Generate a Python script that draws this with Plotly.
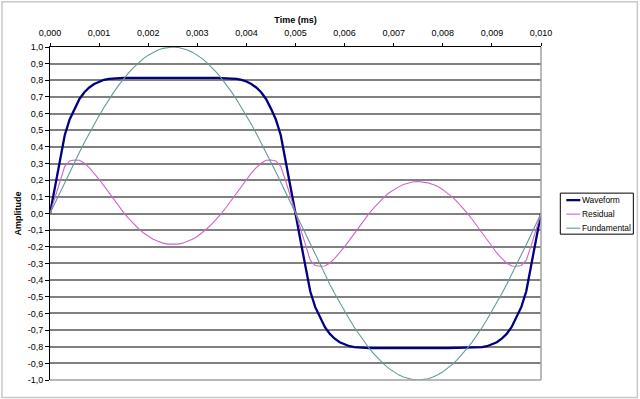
import plotly.graph_objects as go

# ---- data ----
time_ms = [round(i * 0.0001, 4) for i in range(101)]

waveform = [
    0.000, 0.160, 0.320, 0.470, 0.565, 0.630, 0.688, 0.728, 0.757, 0.778,
    0.793, 0.803, 0.809, 0.812, 0.813, 0.814, 0.815, 0.814, 0.815, 0.814,
    0.813, 0.814, 0.815, 0.814, 0.814, 0.815, 0.814, 0.814, 0.815, 0.814,
    0.813, 0.814, 0.815, 0.814, 0.814, 0.813, 0.813, 0.812, 0.809, 0.803,
    0.793, 0.778, 0.757, 0.728, 0.688, 0.630, 0.565, 0.470, 0.320, 0.160,
    0.000,
    -0.159, -0.318, -0.467, -0.561, -0.626, -0.683, -0.723, -0.752, -0.773,
    -0.787, -0.797, -0.803, -0.806, -0.807,
    -0.808, -0.809, -0.808, -0.808, -0.807, -0.808, -0.809, -0.808, -0.808,
    -0.807, -0.808, -0.809, -0.808, -0.808, -0.807, -0.808, -0.809, -0.808,
    -0.808, -0.807, -0.808,
    -0.807, -0.806, -0.803, -0.797, -0.787, -0.773, -0.752, -0.723, -0.683,
    -0.626, -0.561, -0.467, -0.318, -0.159, 0.000,
]

residual = [
    0.000, 0.097, 0.195, 0.283, 0.316, 0.321, 0.320, 0.302, 0.275, 0.242,
    0.205, 0.166, 0.124, 0.083, 0.042, 0.005, -0.029, -0.062, -0.090, -0.116,
    -0.138, -0.155, -0.167, -0.178, -0.184, -0.185, -0.184, -0.178, -0.167, -0.155,
    -0.138, -0.116, -0.090, -0.062, -0.030, 0.004, 0.042, 0.083, 0.124, 0.166,
    0.205, 0.242, 0.275, 0.302, 0.320, 0.321, 0.316, 0.283, 0.195, 0.097,
    0.000,
    -0.096, -0.193, -0.280, -0.312, -0.317, -0.315, -0.297, -0.270, -0.237,
    -0.199, -0.160, -0.118, -0.077, -0.036, 0.001, 0.035, 0.068, 0.097, 0.123,
    0.143, 0.160, 0.174, 0.184, 0.191, 0.192, 0.189, 0.184, 0.174, 0.162,
    0.143, 0.121, 0.097, 0.068, 0.037, 0.001, -0.036, -0.077, -0.118, -0.160,
    -0.199, -0.237, -0.270, -0.297, -0.315, -0.317, -0.312, -0.280, -0.193, -0.096,
    0.000,
]

fundamental = [
    0.000, 0.063, 0.125, 0.187, 0.249, 0.309, 0.368, 0.426, 0.482, 0.536,
    0.588, 0.637, 0.685, 0.729, 0.771, 0.809, 0.844, 0.876, 0.905, 0.930,
    0.951, 0.969, 0.982, 0.992, 0.998, 1.000, 0.998, 0.992, 0.982, 0.969,
    0.951, 0.930, 0.905, 0.876, 0.844, 0.809, 0.771, 0.729, 0.685, 0.637,
    0.588, 0.536, 0.482, 0.426, 0.368, 0.309, 0.249, 0.187, 0.125, 0.063,
    0.000,
    -0.063, -0.125, -0.187, -0.249, -0.309, -0.368, -0.426, -0.482, -0.536,
    -0.588, -0.637, -0.685, -0.729, -0.771, -0.809, -0.844, -0.876, -0.905, -0.930,
    -0.951, -0.969, -0.982, -0.992, -0.998, -1.000, -0.998, -0.992, -0.982, -0.969,
    -0.951, -0.930, -0.905, -0.876, -0.844, -0.809, -0.771, -0.729, -0.685, -0.637,
    -0.588, -0.536, -0.482, -0.426, -0.368, -0.309, -0.249, -0.187, -0.125, -0.063,
    0.000,
]

series_names = ["Waveform", "Residual", "Fundamental"]

x_tick_vals = [0.000, 0.001, 0.002, 0.003, 0.004, 0.005, 0.006, 0.007, 0.008, 0.009, 0.010]
x_tick_text = ["0,000", "0,001", "0,002", "0,003", "0,004", "0,005",
               "0,006", "0,007", "0,008", "0,009", "0,010"]
y_tick_vals = [1.0, 0.9, 0.8, 0.7, 0.6, 0.5, 0.4, 0.3, 0.2, 0.1, 0.0,
               -0.1, -0.2, -0.3, -0.4, -0.5, -0.6, -0.7, -0.8, -0.9, -1.0]
y_tick_text = ["1,0", "0,9", "0,8", "0,7", "0,6", "0,5", "0,4", "0,3", "0,2", "0,1", "0,0",
               "-0,1", "-0,2", "-0,3", "-0,4", "-0,5", "-0,6", "-0,7", "-0,8", "-0,9", "-1,0"]

assert len(time_ms) == len(waveform) == len(residual) == len(fundamental)

FONT = "Liberation Sans, Arial, sans-serif"
FS = 9
styles = [
    dict(color="#000080", width=2.3),
    dict(color="#CC66CC", width=1.1),
    dict(color="#669999", width=1.1),
]

fig = go.Figure()
for name, ys, st in zip(series_names, [waveform, residual, fundamental], styles):
    fig.add_trace(go.Scatter(x=time_ms, y=ys, mode="lines", name=name,
                             line=st, showlegend=False))

L, R, T, B = 50, 99.3, 47.3, 19
W, H = 640, 399
pw, ph = W - L - R, H - T - B

def px_x(px):
    return (px - L) / pw

def px_y(py):
    return (H - B - py) / ph

shapes = [
    # outer chart border
    dict(type="rect", xref="paper", yref="paper",
         x0=px_x(2), x1=px_x(637), y0=px_y(397.5), y1=px_y(2),
         line=dict(color="#C8C8C8", width=1.5), layer="below"),
    # right and bottom plot-area borders
    dict(type="line", xref="paper", yref="paper", x0=1, x1=1, y0=0, y1=1,
         line=dict(color="#A0A0A0", width=1.5)),
    dict(type="line", xref="paper", yref="paper", x0=0, x1=1, y0=0, y1=0,
         line=dict(color="#A0A0A0", width=1.5)),
    # legend box
    dict(type="rect", xref="paper", yref="paper", layer="below",
         x0=px_x(560), x1=px_x(633), y0=px_y(234.3), y1=px_y(193.3),
         line=dict(color="#000000", width=1), fillcolor="white"),
]
annotations = []
legend_rows = [200.3, 214.3, 228.3]
for name, st, yy in zip(series_names, styles, legend_rows):
    shapes.append(dict(type="line", xref="paper", yref="paper",
                       x0=px_x(566), x1=px_x(580), y0=px_y(yy), y1=px_y(yy),
                       line=dict(color=st["color"], width=st["width"])))
    annotations.append(dict(xref="paper", yref="paper", x=px_x(580), y=px_y(yy),
                            xanchor="left", yanchor="middle", showarrow=False,
                            text=name, font=dict(family=FONT, size=8.4, color="#000000")))

fig.update_layout(
    width=W, height=H,
    margin=dict(l=L, r=R, t=T, b=B, pad=0, autoexpand=False),
    paper_bgcolor="white", plot_bgcolor="white",
    font=dict(family=FONT, size=FS, color="#000000"),
    showlegend=False,
    xaxis=dict(
        side="top", range=[0, 0.010], automargin=False,
        tickvals=x_tick_vals, ticktext=x_tick_text,
        showgrid=False, zeroline=False,
        showline=True, linecolor="#000000", linewidth=1,
        ticks="outside", ticklen=3, tickcolor="#000000",
        ticklabelstandoff=3,
        tickfont=dict(size=FS, color="#000000"),
        title=dict(text="<b>Time (ms)</b>", font=dict(size=FS), standoff=3),
    ),
    yaxis=dict(
        range=[-1.0, 1.0], automargin=False,
        tickvals=y_tick_vals, ticktext=y_tick_text,
        showgrid=True, gridcolor="#808080", gridwidth=1.5,
        zeroline=False,
        showline=True, linecolor="#000000", linewidth=1,
        ticks="outside", ticklen=4, tickcolor="#000000",
        tickfont=dict(size=FS, color="#000000"),
        title=dict(text="<b>Amplitude</b>", font=dict(size=FS), standoff=4),
    ),
    shapes=shapes,
    annotations=annotations,
)

fig.write_html(
    "out.html",
    config={"displayModeBar": False},
    post_script="document.body.style.margin='0';document.body.style.padding='0';",
)
